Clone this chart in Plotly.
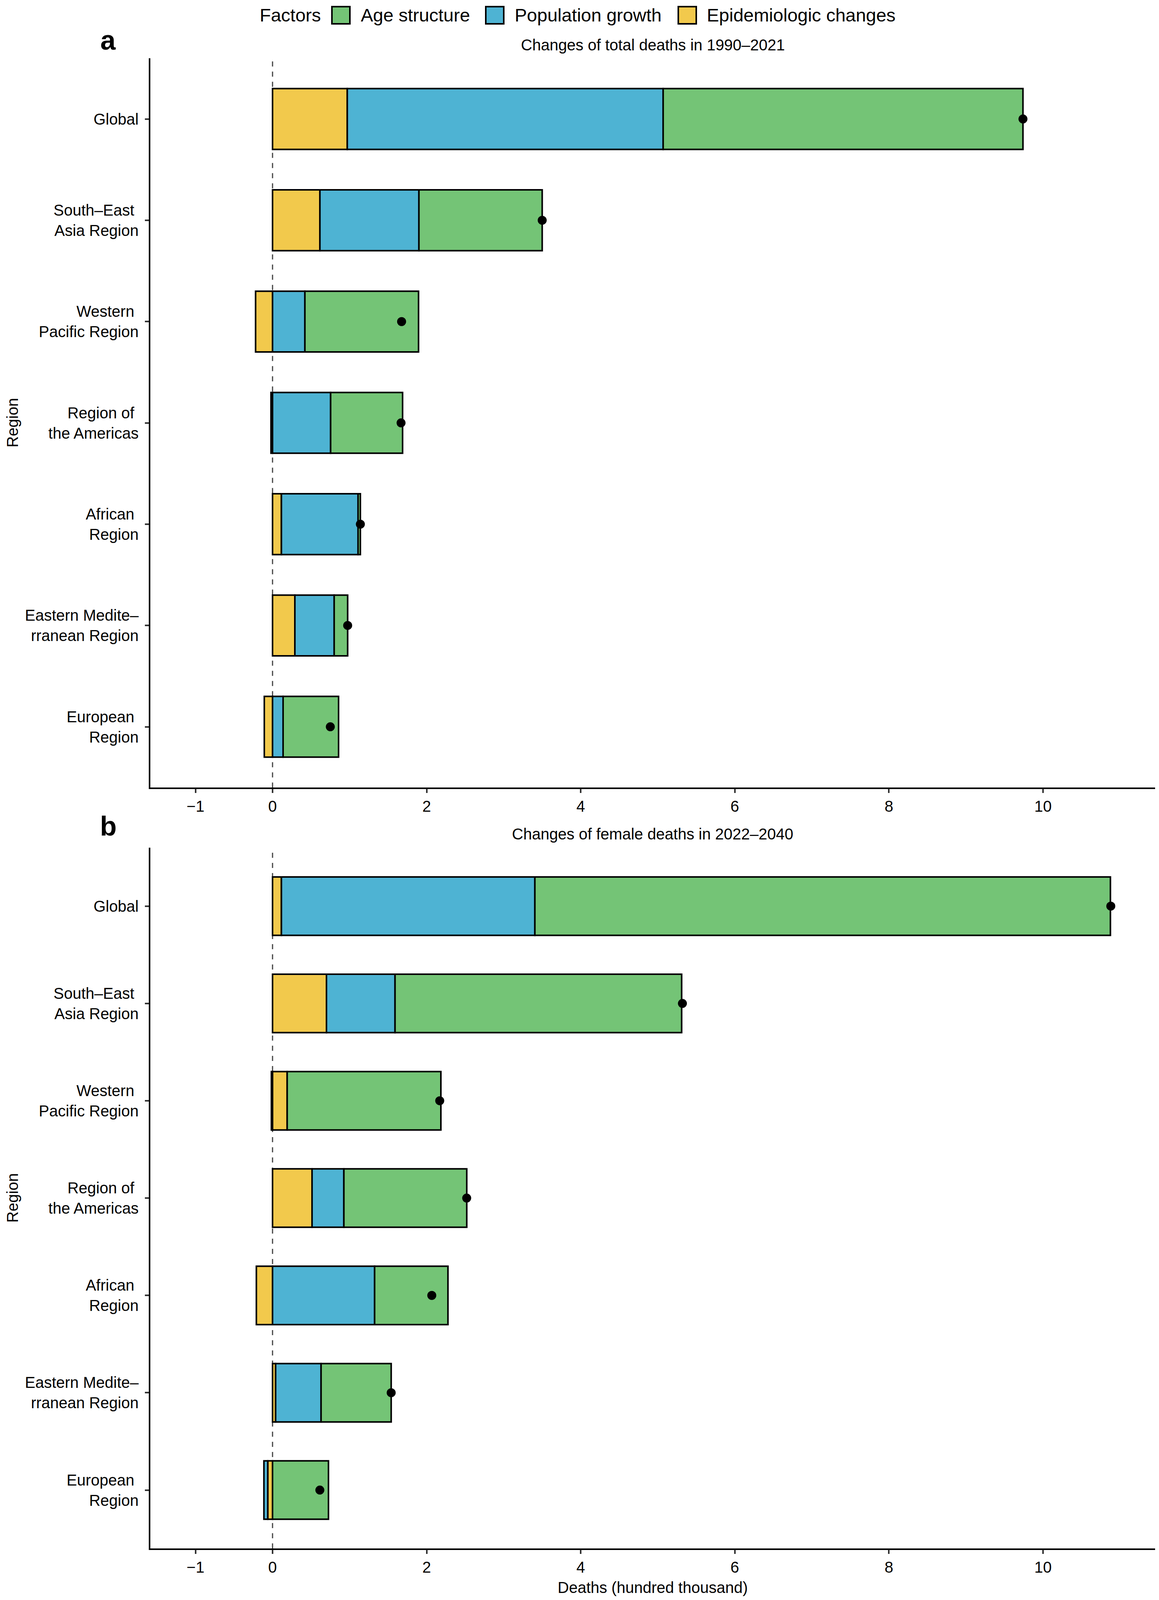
import plotly.graph_objects as go
from plotly.subplots import make_subplots

# region labels (top to bottom), as wrapped in the figure
regions = [
    "Global",
    "South–East\u00a0<br>Asia Region",
    "Western\u00a0<br>Pacific Region",
    "Region of\u00a0<br>the Americas",
    "African\u00a0<br>Region",
    "Eastern Medite–<br>rranean Region",
    "European\u00a0<br>Region",
]

# a: changes of total deaths 1990-2021 (hundred thousand)
epi_a = [0.97, 0.615, -0.22, -0.02, 0.115, 0.29, -0.107]
pop_a = [4.10, 1.285, 0.42, 0.754, 0.995, 0.51, 0.137]
age_a = [4.67, 1.60, 1.475, 0.934, 0.03, 0.175, 0.72]
total_a = [9.74, 3.50, 1.675, 1.668, 1.14, 0.975, 0.75]

# b: changes of female deaths 2022-2040 (hundred thousand)
epi_b = [0.115, 0.70, 0.19, 0.513, -0.21, 0.04, -0.062]
pop_b = [3.29, 0.89, -0.015, 0.413, 1.325, 0.59, -0.05]
age_b = [7.47, 3.72, 1.995, 1.595, 0.952, 0.91, 0.726]
total_b = [10.88, 5.32, 2.17, 2.52, 2.067, 1.54, 0.614]

x_ticks = [-1, 0, 2, 4, 6, 8, 10]

colors = {"Age structure": "#74C476",
          "Population growth": "#4EB3D3",
          "Epidemiologic changes": "#F2C94C"}

# the browser viewport is 2968x4096, so the figure is laid out to fit inside it
# (8px page margin) with reference positions scaled vertically
SY = 4096 / 4466
W, H = 2952, 4080
FONT = "Liberation Sans, Arial, Helvetica, sans-serif"


def fy(p):
    return p * SY - 8


ML, MR = 377, 2
MT = fy(162)
MB = H - fy(4322)


def px_x(p):
    return (p - 8 - ML) / (W - ML - MR)


def px_y(p):
    return (H - MB - fy(p)) / (H - MT - MB)


fig = make_subplots(rows=2, cols=1)

panels = [(1, epi_a, pop_a, age_a, total_a), (2, epi_b, pop_b, age_b, total_b)]
for row, epi, pop, age, total in panels:
    for name, vals in [("Epidemiologic changes", epi), ("Population growth", pop),
                       ("Age structure", age)]:
        fig.add_trace(
            go.Bar(
                x=vals,
                y=regions,
                orientation="h",
                name=name,
                width=0.6,
                marker=dict(color=colors[name], line=dict(color="black", width=4)),
                showlegend=False,
            ),
            row=row, col=1,
        )
    fig.add_trace(
        go.Scatter(
            x=total,
            y=regions,
            mode="markers",
            marker=dict(color="black", size=23),
            showlegend=False,
        ),
        row=row, col=1,
    )
    fig.add_shape(
        type="line", x0=0, x1=0, y0=0, y1=1,
        xref="x" if row == 1 else "x2",
        yref="y domain" if row == 1 else "y2 domain",
        line=dict(color="#444444", width=3, dash="13px,13px"),
        layer="below",
    )

axis_common = dict(
    showline=True, linecolor="black", linewidth=4,
    ticks="outside", ticklen=10, tickwidth=4, tickcolor="#333333",
    showgrid=False, zeroline=False,
    tickfont=dict(family=FONT, size=40, color="black"),
)
for xa in ["xaxis", "xaxis2"]:
    fig.layout[xa].update(
        range=[-1.586, 11.455], tickmode="array", tickvals=x_ticks,
        ticklabelstandoff=0, **axis_common,
    )
for ya, dom in [("yaxis", [px_y(2198), 1]), ("yaxis2", [0, px_y(2366)])]:
    fig.layout[ya].update(
        domain=dom, type="category", categoryorder="array", categoryarray=regions,
        range=[6.6, -0.6], ticklabelstandoff=8, **axis_common,
    )

annotations = [
    dict(text="<b>a</b>", x=px_x(277), y=px_y(112), font=dict(size=70)),
    dict(text="<b>b</b>", x=px_x(277), y=px_y(2306), font=dict(size=70)),
    dict(text="Changes of total deaths in 1990–2021", x=0.5, y=px_y(125),
         font=dict(size=40)),
    dict(text="Changes of female deaths in 2022–2040", x=0.5, y=px_y(2328),
         font=dict(size=40)),
    dict(text="Region", x=px_x(32), y=px_y(1180), textangle=-90, font=dict(size=40)),
    dict(text="Region", x=px_x(32), y=px_y(3344), textangle=-90, font=dict(size=40)),
    # sits on the bottom edge of the figure
    dict(text="Deaths (hundred thousand)", x=0.5, y=-MB / (H - MT - MB),
         yanchor="bottom", font=dict(size=40)),
]

# legend drawn by hand so the keys match the large reference boxes
legend_y = 42
shapes = []
annotations.append(dict(text="Factors", x=px_x(663), y=px_y(legend_y),
                        xanchor="left", font=dict(size=47)))
legend_pos = [("Age structure", 850, 922), ("Population growth", 1244, 1316),
              ("Epidemiologic changes", 1737, 1808)]
for name, box_x, text_x in legend_pos:
    shapes.append(dict(
        type="rect", xref="paper", yref="paper",
        x0=px_x(box_x), x1=px_x(box_x + 46), y0=px_y(legend_y + 24), y1=px_y(legend_y - 24),
        fillcolor=colors[name], line=dict(color="black", width=4),
    ))
    annotations.append(dict(text=name, x=px_x(text_x), y=px_y(legend_y),
                            xanchor="left", font=dict(size=47)))

for a in annotations:
    a.setdefault("xanchor", "center")
    a.setdefault("yanchor", "middle")
    a.update(xref="paper", yref="paper", showarrow=False)
    a["font"] = dict(family=FONT, color="black", **a["font"])

for s in shapes:
    fig.add_shape(**s)

fig.update_layout(
    width=W, height=H,
    margin=dict(l=ML, r=MR, t=MT, b=MB),
    barmode="relative",
    annotations=annotations,
    plot_bgcolor="white",
    paper_bgcolor="white",
    font=dict(family=FONT, color="black"),
    showlegend=False,
)

fig.write_html("out.html")
